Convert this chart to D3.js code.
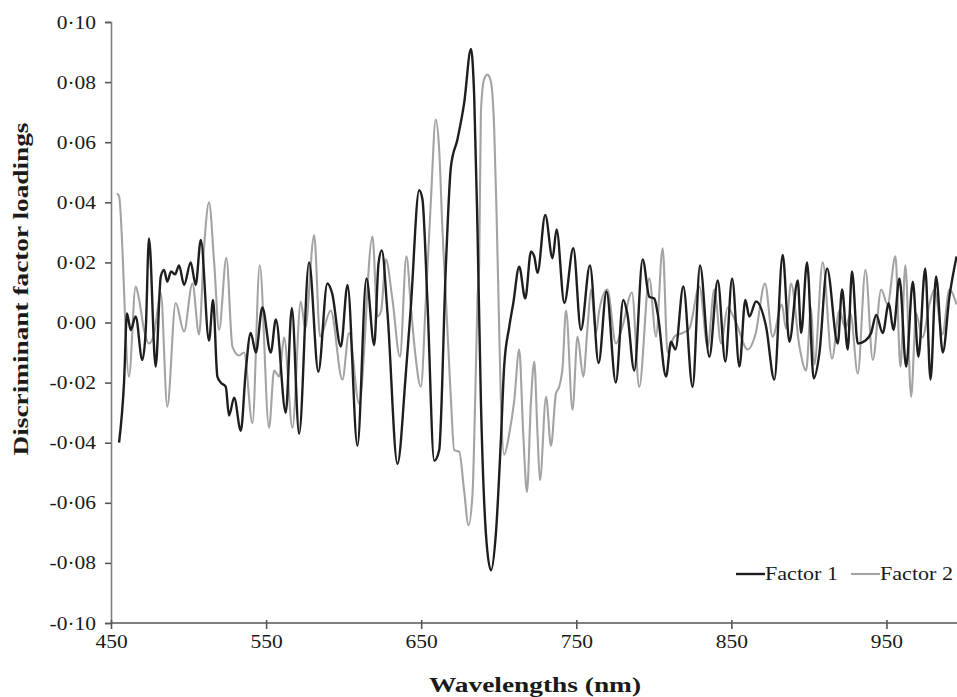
<!DOCTYPE html>
<html><head><meta charset="utf-8">
<script src="https://cdn.jsdelivr.net/npm/d3@7"></script>
<style>
html,body{margin:0;padding:0;background:#fff;}
svg{display:block;}
text{font-family:"Liberation Serif","Times New Roman",serif;fill:#1a1a1a;}
</style></head>
<body>
<svg id="chart" width="957" height="697"></svg>
<script>
// ---- data ----
const xTicks = [450, 550, 650, 750, 850, 950];
const yTicks = [-0.10, -0.08, -0.06, -0.04, -0.02, 0, 0.02, 0.04, 0.06, 0.08, 0.10];
const seriesNames = ["Factor 1", "Factor 2"];

const f1Wl = [455.2,458.4,460.3,462.7,465.9,470.2,472.4,474.5,478.8,482.1,484.2,486.3,488.7,491.3,493.9,497.1,501.4,504.6,507.9,513.2,515.8,518.6,520.8,524,526.1,529.4,533.7,536.9,540.1,543.4,547.6,553,556.3,562.7,566.6,571.3,577.7,583.7,589.5,592.6,598.2,602.5,608.9,614.7,619.7,622.5,624.6,628.3,634.7,640.1,643.3,648.7,650.8,654,658.4,661.6,665.9,669.2,673.4,677.7,682.1,684.2,686.3,688.5,691.7,695,698.2,701.4,703.5,706.8,709.4,713.2,717.1,720.8,722.9,725,730,734.7,737.3,742.3,748.1,753,758.8,764.4,769.5,775.5,780.3,782.9,787.4,792.8,797.1,800.3,802.5,807.9,811.1,813.9,819,825,829.8,835.8,841.2,846.1,850.5,855.2,859,861.6,865.9,872.4,877.7,883.1,887.4,892.8,895,898.8,903.1,906.8,911.7,918.6,921.4,925,927.8,931.5,936.5,940.1,943.4,947.6,951.5,954.5,958.4,962.7,967,970.6,975,978.4,982,986.3,990.6,995.2];
const f1Val = [-0.040,-0.020,0.003,-0.0025,0.002,-0.0125,-0.0025,0.028,-0.0147,0.0153,0.0175,0.0136,0.017,0.016,0.019,0.0125,0.020,0.0125,0.0275,-0.006,0.0075,-0.018,-0.020,-0.0214,-0.031,-0.025,-0.036,-0.016,-0.0035,-0.010,0.005,-0.010,0.001,-0.030,0.0048,-0.037,0.020,-0.0164,0.013,0.0097,-0.008,0.0125,-0.041,0.0147,-0.0075,0.0197,0.024,0.003,-0.047,-0.017,0.005,0.044,0.041,0.0075,-0.046,-0.0425,0.0186,0.052,0.061,0.073,0.091,0.075,0.031,-0.026,-0.070,-0.0825,-0.070,-0.039,-0.0147,-0.0014,0.0065,0.0186,0.008,0.0236,0.022,0.0165,0.0358,0.0214,0.031,0.0065,0.0247,-0.0025,0.019,-0.0135,0.0103,-0.020,0.0075,0.003,-0.016,0.021,0.0086,0.008,0.003,-0.018,-0.0064,-0.009,0.012,-0.0214,0.019,-0.0114,0.014,-0.013,0.0147,-0.0147,0.0075,0.002,0.007,-0.0014,-0.019,0.0225,-0.0064,0.014,-0.0035,0.020,-0.0186,-0.010,0.018,-0.007,0.011,-0.009,0.017,-0.007,-0.006,-0.0035,0.0025,-0.0035,0.0064,-0.0025,0.0147,-0.0147,0.0136,-0.0114,0.018,-0.019,0.0153,-0.010,0.0086,0.022];

const f2Wl = [453.9,455.2,461.6,465.9,468,471.3,474.5,477.7,482.1,486.3,491.7,497.1,502.5,506.8,510,513.2,516.5,519.7,524.4,528.3,532.6,535.8,541.2,545.9,551.9,555.2,558.4,561.6,567,572.4,575.2,581,584.8,591.7,599.2,603.5,610,618.6,621.8,624.2,627.2,631.5,636.3,640.5,643.4,646.1,649.8,653,656.3,659.4,661.6,663.7,665.9,669.2,671.3,674.5,677.7,680.5,683.1,684.8,686.3,687.4,688.5,690.6,692.8,695,697.1,698.6,700.3,701.4,703.5,706.8,710,713.2,715.8,718.2,720.8,722.9,725,726.6,730.5,733.7,736.9,739,741.2,743.4,747.6,750.8,754.5,757.3,759.5,762.7,764.8,770,775.6,779.7,785.9,790.6,797.1,801.4,805.7,808.9,813.2,818.6,822.9,829.4,834.7,839,843.4,847.6,853,860.5,865.5,871.7,876.6,882.6,885.2,888.5,893.9,898.2,901.4,903.5,908.9,914.9,919.7,923.5,926.8,931.5,936.5,941.2,946.6,950.7,955.8,959,962.2,965.9,969.1,973.2,977.7,980.9,986.1,990.6,995.2];
const f2Val = [0.043,0.042,-0.018,0.012,0.008,-0.0025,-0.007,-0.004,0.0098,-0.028,0.0065,-0.003,0.013,-0.004,0.025,0.040,0.020,-0.0025,0.0215,-0.008,-0.011,-0.010,-0.0335,0.019,-0.035,-0.016,-0.018,-0.005,-0.035,0.007,-0.002,0.029,-0.0047,0.004,-0.019,-0.0035,-0.027,0.0286,0.002,0.004,0.021,0.0075,-0.0114,0.022,0.005,-0.010,-0.0214,0.0075,0.041,0.0675,0.0575,0.031,0.0086,-0.026,-0.0425,-0.043,-0.056,-0.0675,-0.057,-0.026,0.0075,0.0198,0.070,0.081,0.0825,0.080,0.064,0.0365,-0.0025,-0.026,-0.044,-0.037,-0.026,-0.009,-0.037,-0.0564,-0.026,-0.013,-0.037,-0.0525,-0.0247,-0.041,-0.0236,-0.0214,-0.0147,0.004,-0.029,-0.0047,-0.018,-0.0014,0.011,-0.0035,0.004,0.011,-0.007,-0.0015,0.010,-0.0214,0.0147,-0.0047,0.0247,-0.010,-0.0047,-0.0035,-0.002,0.012,-0.008,0.011,-0.007,0.005,0,-0.009,-0.004,0.013,-0.0047,0.006,-0.002,0.013,-0.008,-0.016,0.005,-0.014,0.020,-0.012,0.004,-0.002,0.003,-0.017,0.0175,-0.0125,0.011,0.006,0.022,-0.0147,0.019,-0.0247,0.003,-0.005,0.006,0.011,-0.004,0.011,0.006];

// ---- layout ----
const STRETCH = 1.13; // reference text is horizontally widened
const svg = d3.select("#chart");
const x = d3.scaleLinear().domain([450, 1000]).range([111, 964]);
const y = d3.scaleLinear().domain([-0.10, 0.10]).range([623, 22]);

svg.append("defs").append("clipPath").attr("id", "plotclip")
  .append("rect").attr("x", 111).attr("y", 0).attr("width", 846).attr("height", 640);

const fmt = d => d3.format(".2f")(d).replace("−", "-").replace(".", "·");
function widen(sel) {
  sel.each(function() {
    const w = this.getComputedTextLength();
    d3.select(this).attr("textLength", w * STRETCH).attr("lengthAdjust", "spacingAndGlyphs");
  });
}

// y axis
const yAxis = svg.append("g").attr("transform", "translate(111,0)")
  .call(d3.axisLeft(y).tickValues(yTicks).tickFormat(fmt).tickSize(6).tickPadding(9));
yAxis.select(".domain").attr("stroke", "#808080").attr("stroke-width", 1.6);
yAxis.selectAll(".tick line").attr("stroke", "#555").attr("stroke-width", 1.6);
yAxis.selectAll(".tick text").attr("font-size", 19).attr("font-family", "Liberation Serif").attr("fill", "#1a1a1a").call(widen);

// x axis
const xAxis = svg.append("g").attr("transform", "translate(0,623)")
  .call(d3.axisBottom(x).tickValues(xTicks).tickFormat(d3.format("d")).tickSize(6).tickPadding(6));
xAxis.select(".domain").attr("stroke", "#555").attr("stroke-width", 1.6).attr("d", "M111,0H957");
xAxis.selectAll(".tick line").attr("stroke", "#555").attr("stroke-width", 1.6).attr("y1", -3);
xAxis.selectAll(".tick text").attr("font-size", 19).attr("font-family", "Liberation Serif").attr("fill", "#1a1a1a").call(widen);

// axis titles
svg.append("text").attr("x", 535).attr("y", 692).attr("text-anchor", "middle")
  .attr("font-size", 20).attr("font-weight", "bold").attr("textLength", 212).attr("lengthAdjust", "spacingAndGlyphs")
  .text("Wavelengths (nm)");
svg.append("text").attr("transform", "translate(28,289) rotate(-90)").attr("text-anchor", "middle")
  .attr("font-size", 20).attr("font-weight", "bold").attr("textLength", 333).attr("lengthAdjust", "spacingAndGlyphs")
  .text("Discriminant factor loadings");

// lines
const line = d3.line().x(d => x(d[0])).y(d => y(d[1])).curve(d3.curveMonotoneX);
const s1 = f1Wl.map((w, i) => [w, f1Val[i]]);
const s2 = f2Wl.map((w, i) => [w, f2Val[i]]);
const g = svg.append("g").attr("clip-path", "url(#plotclip)");
g.append("path").datum(s2).attr("d", line).attr("fill", "none").attr("stroke", "#a3a3a3").attr("stroke-width", 2.1).attr("stroke-linejoin", "round");
g.append("path").datum(s1).attr("d", line).attr("fill", "none").attr("stroke", "#1e1e1e").attr("stroke-width", 2.4).attr("stroke-linejoin", "round");

// legend
const legend = [
  {name: seriesNames[0], x0: 736, color: "#1e1e1e", w: 2.4},
  {name: seriesNames[1], x0: 851, color: "#a3a3a3", w: 2.1}
];
legend.forEach(l => {
  svg.append("line").attr("x1", l.x0).attr("x2", l.x0 + 29).attr("y1", 574).attr("y2", 574)
    .attr("stroke", l.color).attr("stroke-width", l.w);
  svg.append("text").attr("x", l.x0 + 29).attr("y", 580).attr("font-size", 19)
    .attr("textLength", 73).attr("lengthAdjust", "spacingAndGlyphs").text(l.name);
});
</script>
</body></html>
